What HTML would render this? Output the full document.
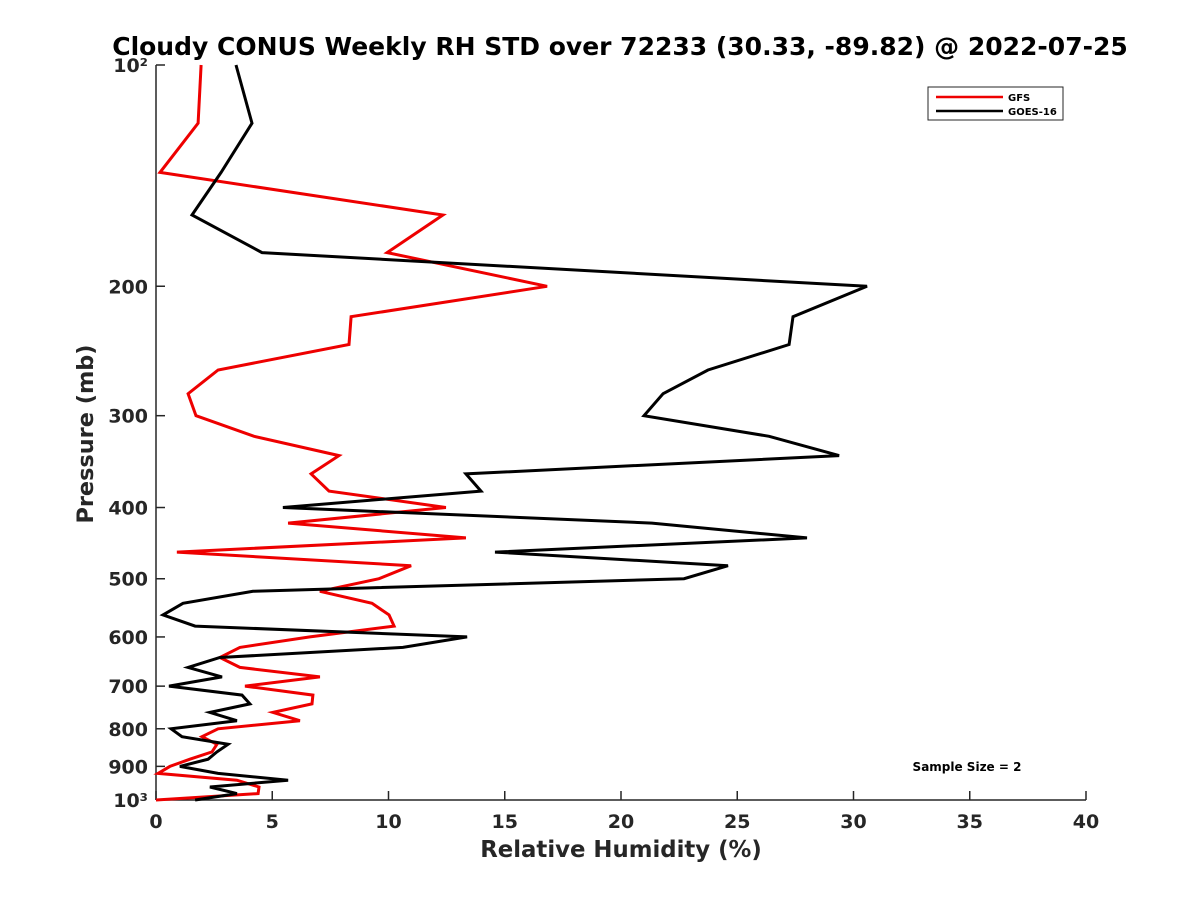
<!DOCTYPE html>
<html><head><meta charset="utf-8"><style>
body{margin:0;background:#fff;}
svg{display:block;font-family:"DejaVu Sans","Liberation Sans",sans-serif;}
</style></head><body>
<svg id="chart" width="1200" height="900" viewBox="0 0 1200 900" xmlns="http://www.w3.org/2000/svg">
<rect width="1200" height="900" fill="#fff"/>
<text x="620" y="55" text-anchor="middle" font-size="25" font-weight="bold">Cloudy CONUS Weekly RH STD over 72233 (30.33, -89.82) @ 2022-07-25</text>
<g id="axes"></g>
<g id="series"></g>
<text x="621" y="857" text-anchor="middle" font-size="22.8" font-weight="bold" fill="#262626">Relative Humidity (%)</text>
<text transform="translate(93,434) rotate(-90)" text-anchor="middle" font-size="22.4" font-weight="bold" fill="#262626">Pressure (mb)</text>
<g>
<rect x="928" y="87" width="135" height="33" fill="#fff" stroke="#262626" stroke-width="1"/>
<line x1="936" y1="97" x2="1003" y2="97" stroke="#e00" stroke-width="2.5"/>
<text x="1008" y="101" font-size="10" font-weight="bold">GFS</text>
<line x1="936" y1="111" x2="1003" y2="111" stroke="#000" stroke-width="2.5"/>
<text x="1008" y="115" font-size="10" font-weight="bold">GOES-16</text>
</g>
<text x="967" y="771" text-anchor="middle" font-size="12" font-weight="bold">Sample Size = 2</text>
</svg>
<script>
const pressures = [100,120,140,160,180,200,220,240,260,280,300,320,340,360,380,400,420,440,460,480,500,520,540,560,580,600,620,640,660,680,700,720,740,760,780,800,820,840,860,880,900,920,940,960,980,1000];
const gfs = [1.94,1.81,0.17,12.34,9.94,16.82,8.39,8.30,2.67,1.38,1.72,4.22,7.87,6.67,7.44,12.47,5.68,13.33,0.90,10.97,9.59,7.05,9.29,10.02,10.24,6.62,3.61,2.75,3.61,7.05,3.83,6.75,6.71,5.03,6.19,2.67,1.98,2.62,2.41,1.46,0.60,0.09,3.48,4.43,4.39,0];
const goes = [3.44,4.13,2.80,1.55,4.56,30.58,27.40,27.23,23.74,21.81,20.99,26.37,29.38,13.33,13.98,5.46,21.33,28.0,14.58,24.60,22.71,4.17,1.16,0.30,1.68,13.38,10.62,2.75,1.38,2.84,0.56,3.70,4.04,2.32,3.48,0.65,1.12,3.10,2.62,2.24,1.03,2.67,5.68,2.32,3.48,1.68];
const xTicks = [0,5,10,15,20,25,30,35,40];
const yTicks = [100,200,300,400,500,600,700,800,900,1000];
const yTickLabels = ["10²","200","300","400","500","600","700","800","900","10³"];

const X0=156,X1=1086,Y0=65,Y1=800;
function xs(v){return X0+(v-0)/(40-0)*(X1-X0);}
function ys(p){return Y0+(Math.log10(p)-2)*(Y1-Y0);}
const NS="http://www.w3.org/2000/svg";
const axes=document.getElementById('axes');
function mk(tag,attrs,parent){const e=document.createElementNS(NS,tag);for(const k in attrs)e.setAttribute(k,attrs[k]);parent.appendChild(e);return e;}
let a=mk('line',{x1:X0,y1:Y0,x2:X0,y2:Y1,stroke:'#262626','stroke-width':1.5},axes);


a=mk('line',{x1:X0,y1:Y1,x2:X1,y2:Y1,stroke:'#262626','stroke-width':1.5},axes);


xTicks.forEach(v=>{
  const t=mk('line',{x1:xs(v),y1:Y1,x2:xs(v),y2:Y1-9,stroke:'#262626','stroke-width':1.5},axes);
  
  
  const l=mk('text',{x:xs(v),y:Y1+28,'text-anchor':'middle','font-size':19,'font-weight':'bold',fill:'#262626'},axes);
  l.textContent=v;
  
  
});
yTicks.forEach((p,i)=>{
  const t=mk('line',{x1:X0,y1:ys(p),x2:X0+9,y2:ys(p),stroke:'#262626','stroke-width':1.5},axes);
  
  
  const l=mk('text',{x:X0-8,y:ys(p)+7,'text-anchor':'end','font-size':19,'font-weight':'bold',fill:'#262626'},axes);
  l.textContent=yTickLabels[i];
  
  
});
const ser=document.getElementById('series');
function line(vals,color,name){
  const pts=vals.map((v,i)=>xs(v).toFixed(1)+','+ys(pressures[i]).toFixed(1)).join(' ');
  const pl=mk('polyline',{points:pts,fill:'none',stroke:color,'stroke-width':3,'stroke-linejoin':'miter'},ser);
  
  
}
line(gfs,'#e00','gfs-line');
line(goes,'#000','goes16-line');
</script>
</body></html>
